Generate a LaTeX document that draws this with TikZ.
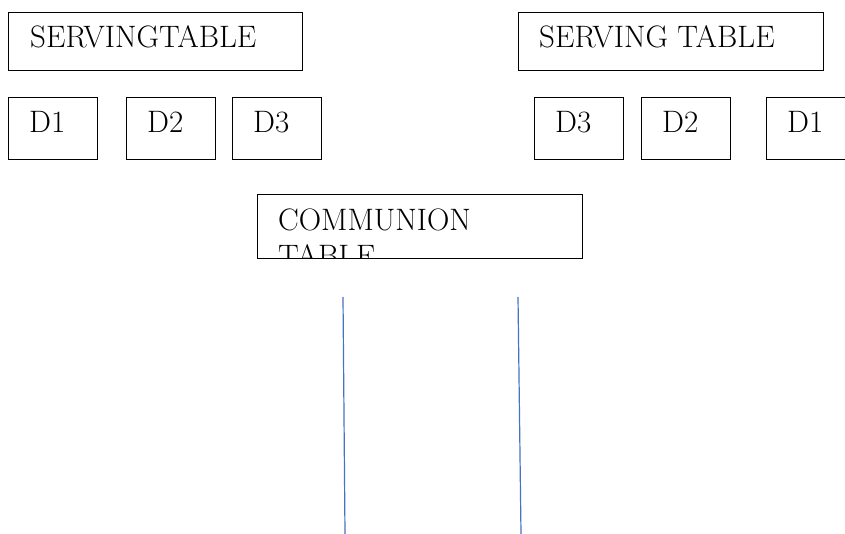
\documentclass[tikz,border=0pt]{standalone}
\usepackage{tikz}
\usetikzlibrary{positioning}
\definecolor{aislecol}{RGB}{68,114,196}

\begin{document}
\begin{tikzpicture}[x=1pt,y=-1pt,
  box/.style={draw,line width=0.8pt,inner sep=0pt,anchor=north west},
  lbl/.style={inner sep=0pt,anchor=base west,font=\fontsize{31}{36}\selectfont},
  aisle/.style={draw=aislecol,line width=1.2pt}]
\useasboundingbox (0,0) rectangle (845,534);
\clip (0,0) rectangle (845,534);
% serving tables
\node[box,minimum width=294pt,minimum height=58pt] (stl) at (8,12) {};
\node[box,minimum width=305pt,minimum height=58pt] (str) at (518,12) {};
\node[lbl] (stltx) at ([xshift=22pt,yshift=-36pt]stl.north west) {SERVINGTABLE};
\node[lbl] (strtx) at ([xshift=21pt,yshift=-36pt]str.north west) {SERVING TABLE};
% dishes
\foreach \nm/\x/\t in {dla/8/D1, dlb/126/D2, dlc/232/D3, drc/534/D3, drb/641/D2, dra/766/D1}{
  \node[box,minimum width=89pt,minimum height=62pt] (\nm) at (\x,97) {};
  \node[lbl] at ([xshift=21pt,yshift=-36pt]\nm.north west) {\t};
}
% communion table, second line cut off by the box
\node[box,minimum width=325pt,minimum height=64pt] (ct) at (257,194) {};
\begin{scope}
\clip (ct.north west) rectangle (ct.south east);
\node[lbl] (cttx) at ([xshift=21pt,yshift=-37pt]ct.north west) {COMMUNION};
\node[lbl] (cttx2) at ([yshift=-36pt]cttx.base west) {TABLE};
\end{scope}
% aisle
\coordinate (al1) at (343,297);
\coordinate (al2) at (345,534);
\coordinate (ar1) at (518,297);
\coordinate (ar2) at (521,534);
\draw[aisle] (al1) -- (al2);
\draw[aisle] (ar1) -- (ar2);
\end{tikzpicture}
\end{document}
